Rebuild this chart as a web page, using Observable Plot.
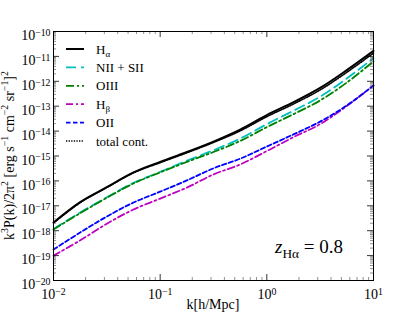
<!DOCTYPE html>
<html><head><meta charset="utf-8">
<script src="https://cdn.jsdelivr.net/npm/d3@7"></script>
<script src="https://cdn.jsdelivr.net/npm/@observablehq/plot@0.6"></script>
<style>body{margin:0;background:#fff} svg{display:block}</style>
</head><body><div id="chart"></div>
<script>
// ---- data ----
const kValues = [0.01, 0.0178, 0.0316, 0.0562, 0.1, 0.178, 0.316, 0.562, 1, 1.78, 3.16, 5.62, 10];
const hAlpha  = [2.14e-18, 1.41e-17, 5.6e-17, 2.2e-16, 5.8e-16, 1.45e-15, 3.8e-15, 1.15e-14, 4.4e-14, 1.45e-13, 5.4e-13, 2.8e-12, 1.66e-11];
const niiSii  = [1.17e-18, 5.4e-18, 2.2e-17, 8.3e-17, 2.3e-16, 6.5e-16, 1.7e-15, 5.0e-15, 1.9e-14, 6.6e-14, 2.4e-13, 1.3e-12, 8.5e-12];
const oiii    = [1.12e-18, 5.1e-18, 2.1e-17, 7.9e-17, 2.2e-16, 5.8e-16, 1.45e-15, 4.0e-15, 1.45e-14, 4.8e-14, 1.7e-13, 8.9e-13, 6.3e-12];
const hBeta   = [1.0e-19, 4.1e-19, 1.9e-18, 7.1e-18, 1.95e-17, 5.4e-17, 1.82e-16, 4.57e-16, 1.58e-15, 5.75e-15, 1.9e-14, 1.02e-13, 6.8e-13];
const oii     = [1.74e-19, 8.5e-19, 3.7e-18, 1.35e-17, 3.7e-17, 1.05e-16, 3.2e-16, 7.8e-16, 2.4e-15, 7.4e-15, 2.4e-14, 1.07e-13, 6.8e-13];
const totalCont = [2.04e-18, 1.35e-17, 5.4e-17, 2.1e-16, 5.4e-16, 1.35e-15, 3.5e-15, 1.02e-14, 3.8e-14, 1.23e-13, 4.5e-13, 2.3e-12, 1.35e-11];

const seriesNames = ["Hα", "NII + SII", "OIII", "Hβ", "OII", "total cont."];
const yTickExponents = [-20, -19, -18, -17, -16, -15, -14, -13, -12, -11, -10];
const xTickExponents = [-2, -1, 0, 1];
const xAxisLabel = "k[h/Mpc]";
const redshiftLabel = {name: "z", sub: "Hα", value: " = 0.8"};

// ---- styles ----
const styles = [
  {values: hAlpha,    color: "#000000", dash: null,        width: 2},
  {values: niiSii,    color: "#00bfbf", dash: "10,5",      width: 1.8},
  {values: oiii,      color: "#008000", dash: "8,3,2,3",   width: 1.8},
  {values: hBeta,     color: "#bf00bf", dash: "7,3,2,3",   width: 1.8},
  {values: oii,       color: "#0000ff", dash: "4.5,2.5",   width: 1.8},
  {values: totalCont, color: "#000000", dash: "1.3,1.3",   width: 1.6}
];
const series = seriesNames.map((name, i) => ({name, ...styles[i]}));

const W = 415, H = 312, mL = 53, mR = 42, mT = 31, mB = 32;
const fw = W - mL - mR, fh = H - mT - mB;
const font = "'Liberation Serif', 'DejaVu Serif', serif";

const yMajor = yTickExponents.map(e => Math.pow(10, e));
const yMinor = yTickExponents.slice(0, -1).flatMap(e => d3.range(2, 10).map(m => m * Math.pow(10, e)));
const xMajor = xTickExponents.map(e => Math.pow(10, e));
const xMinor = xTickExponents.slice(0, -1).flatMap(e => d3.range(2, 10).map(m => m * Math.pow(10, e)));

const lineMarks = series.map(s => Plot.line(kValues.map((k, i) => ({k, v: s.values[i]})), {
  x: "k", y: "v", stroke: s.color, strokeWidth: s.width, strokeDasharray: s.dash, curve: "catmull-rom"
}));

const tickMajor = 6, tickMinor = 3;
const chart = Plot.plot({
  width: W, height: H,
  marginLeft: mL, marginRight: mR, marginTop: mT, marginBottom: mB,
  style: {fontFamily: font, fontSize: "14px", background: "#fff", color: "#000"},
  x: {type: "log", domain: [1e-2, 10], axis: null},
  y: {type: "log", domain: [1e-20, 1e-10], axis: null},
  marks: [
    ...lineMarks,
    Plot.tickY(yMajor, {y: d => d, stroke: "#000", strokeWidth: 0.8, insetRight: fw - tickMajor}),
    Plot.tickY(yMajor, {y: d => d, stroke: "#000", strokeWidth: 0.8, insetLeft: fw - tickMajor}),
    Plot.tickY(yMinor, {y: d => d, stroke: "#444", strokeWidth: 0.6, insetRight: fw - tickMinor}),
    Plot.tickY(yMinor, {y: d => d, stroke: "#444", strokeWidth: 0.6, insetLeft: fw - tickMinor}),
    Plot.tickX(xMajor, {x: d => d, stroke: "#000", strokeWidth: 0.8, insetTop: fh - tickMajor}),
    Plot.tickX(xMajor, {x: d => d, stroke: "#000", strokeWidth: 0.8, insetBottom: fh - tickMajor}),
    Plot.tickX(xMinor, {x: d => d, stroke: "#444", strokeWidth: 0.6, insetTop: fh - tickMinor}),
    Plot.tickX(xMinor, {x: d => d, stroke: "#444", strokeWidth: 0.6, insetBottom: fh - tickMinor}),
    Plot.axisY(yMajor, {tickSize: 0, tickPadding: 3, fontSize: 14, tickFormat: d => "10^" + Math.round(Math.log10(d)), label: null}),
    Plot.axisX(xMajor, {tickSize: 0, tickPadding: 9, fontSize: 14, tickFormat: d => "10^" + Math.round(Math.log10(d)), label: null}),
    Plot.frame({stroke: "#000", strokeWidth: 1})
  ]
});
document.getElementById("chart").appendChild(chart);

const svg = d3.select(chart);
function supify(sel) {
  sel.each(function() {
    const t = d3.select(this);
    const txt = t.text();
    if (!txt.includes("^")) return;
    const [base, exp] = txt.split("^");
    t.text(null);
    t.append("tspan").text(base);
    t.append("tspan").attr("dy", "-0.45em").attr("font-size", "70%").text(exp.replace("-", "\u2212"));
  });
}
supify(svg.selectAll('g[aria-label="y-axis tick label"] text'));
supify(svg.selectAll('g[aria-label="x-axis tick label"] text'));
svg.selectAll('g[aria-label="y-axis tick label"] text').attr("dy", "0.3em");

function rich(g, runs, size) {
  let shift = 0;
  runs.forEach(r => {
    const target = r.s === "sup" ? -0.42 * size : r.s === "sub" ? 0.28 * size : 0;
    const ts = g.append("tspan").attr("dy", target - shift).text(r.t);
    if (r.s) ts.attr("font-size", size * 0.7);
    if (r.i) ts.attr("font-style", "italic");
    shift = target;
  });
}

// y axis label
const yl = svg.append("text").attr("font-family", font).attr("font-size", 14).attr("fill", "#000")
  .attr("text-anchor", "middle").attr("transform", `translate(14,${mT + fh / 2}) rotate(-90)`);
rich(yl, [{t: "k"}, {t: "3", s: "sup"}, {t: "P(k)/2π"}, {t: "2", s: "sup"}, {t: " [erg s"}, {t: "\u22121", s: "sup"},
  {t: " cm"}, {t: "\u22122", s: "sup"}, {t: " sr"}, {t: "\u22121", s: "sup"}, {t: "]"}, {t: "2", s: "sup"}], 14);

// x axis label
svg.append("text").attr("font-family", font).attr("font-size", 14).attr("fill", "#000")
  .attr("text-anchor", "middle").attr("x", mL + fw / 2).attr("y", 309).text(xAxisLabel);

// redshift annotation
const za = svg.append("text").attr("font-family", font).attr("font-size", 19).attr("fill", "#000")
  .attr("text-anchor", "start").attr("x", 275).attr("y", 253);
rich(za, [{t: redshiftLabel.name, i: true}, {t: redshiftLabel.sub, s: "sub"}, {t: redshiftLabel.value}], 19);

// legend
const lg = svg.append("g").attr("font-family", font).attr("font-size", 13).attr("text-anchor", "start");
series.forEach((s, i) => {
  const y = 49 + i * 18.4;
  lg.append("line").attr("x1", 66).attr("x2", 84).attr("y1", y).attr("y2", y)
    .attr("stroke", s.color).attr("stroke-width", s.width).attr("stroke-dasharray", s.dash);
  const t = lg.append("text").attr("x", 96).attr("y", y + 4.5).attr("fill", "#000");
  if (s.name === "Hα") rich(t, [{t: "H"}, {t: "α", s: "sub"}], 13);
  else if (s.name === "Hβ") rich(t, [{t: "H"}, {t: "β", s: "sub"}], 13);
  else t.text(s.name);
});
</script>
</body></html>
